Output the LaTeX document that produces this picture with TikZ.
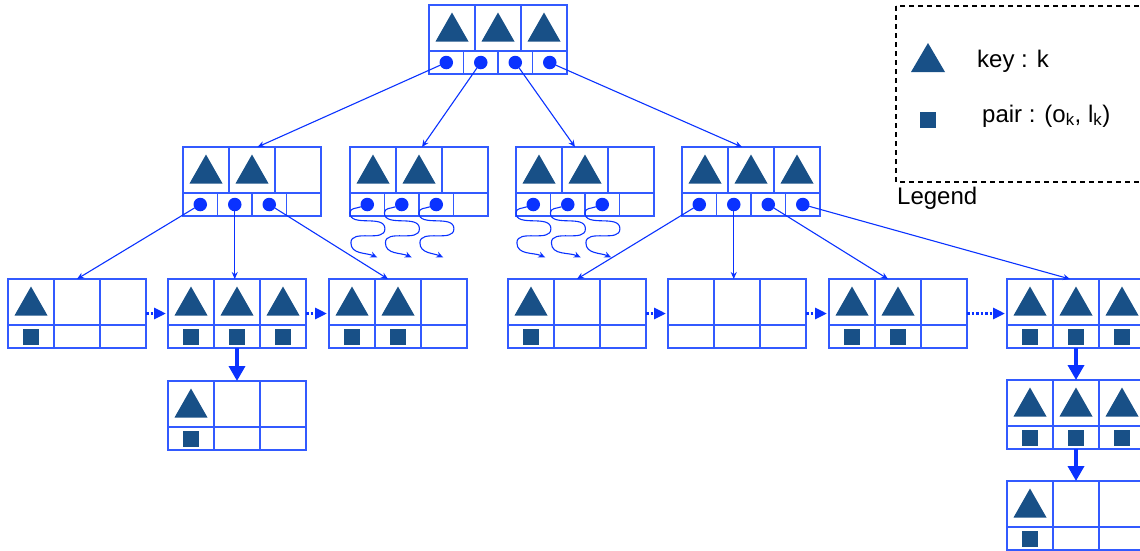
\documentclass[tikz,border=0pt]{standalone}
\usepackage{fontspec}
\setmainfont{Liberation Sans}
\usetikzlibrary{arrows.meta,calc}
\definecolor{lineblue}{RGB}{50,90,255}
\definecolor{arrowblue}{RGB}{10,50,255}
\definecolor{keyblue}{RGB}{24,80,135}
\tikzset{
  nodebox/.style={draw=lineblue,line width=1.5pt,minimum width=138pt,minimum height=69pt,inner sep=0pt,outer sep=0pt},
  cellline/.style={draw=lineblue,line width=1.3pt},
  dot/.style={circle,fill=arrowblue,minimum size=13.5pt,inner sep=0pt,outer sep=0pt},
  conn/.style={draw=arrowblue,line width=1.1pt,-{Stealth[length=7pt,width=6pt]}},
  bigarrow/.style={draw=arrowblue,line width=3.5pt,-{Triangle[length=15pt,width=16pt]}},
  dotarrow/.style={draw=arrowblue,line width=3pt,dash pattern=on 2.5pt off 2pt,shorten >=2pt,-{Triangle[length=12pt,width=11pt]}},
  legtext/.style={font=\fontsize{24}{28}\selectfont,inner sep=0pt,anchor=base west,text=black},
  legbox/.style={draw=black,line width=2pt,dash pattern=on 5pt off 4pt}
}
% internal node: name, left x, top y, triangle cells, dot cells
\newcommand\innernode[5]{%
  \node[nodebox] (#1) at (#2+69,#3+34.5) {};
  \draw[cellline] (#2,#3+46) -- (#2+138,#3+46)
     (#2+46,#3) -- (#2+46,#3+46) (#2+92,#3) -- (#2+92,#3+46)
     (#2+34.5,#3+46) -- (#2+34.5,#3+69) (#2+69,#3+46) -- (#2+69,#3+69)
     (#2+103.5,#3+46) -- (#2+103.5,#3+69);
  \foreach \i in {#4} {\fill[keyblue] (#2+46*\i-39.5,#3+36.5) -- (#2+46*\i-6.5,#3+36.5) -- (#2+46*\i-23,#3+7.5) -- cycle;}
  \foreach \i in {#5} {\node[dot] (#1-\i) at (#2+34.5*\i-17.25,#3+57.5) {};}
}
% leaf box only
\newcommand\leafbox[3]{%
  \node[nodebox] (#1) at (#2+69,#3+34.5) {};
  \draw[cellline] (#2,#3+46) -- (#2+138,#3+46)
     (#2+46,#3) -- (#2+46,#3+69) (#2+92,#3) -- (#2+92,#3+69);
}
% leaf node: name, left x, top y, filled cells
\newcommand\leafnode[4]{%
  \leafbox{#1}{#2}{#3}
  \foreach \i in {#4} {%
    \fill[keyblue] (#2+46*\i-39.5,#3+36.5) -- (#2+46*\i-6.5,#3+36.5) -- (#2+46*\i-23,#3+7.5) -- cycle;
    \fill[keyblue] (#2+46*\i-31,#3+49.5) rectangle (#2+46*\i-15,#3+65.5);}
}
% wavy arrow from a dot
\newcommand\wavy[2]{%
  \coordinate (#1-t) at ($(#1)+(#2,53)$);
  \draw[conn] (#1.200) to[out=200,in=90] ++(-11,6) to[out=-90,in=90] ++(35,16)
     to[out=-90,in=90] ++(-34,14) to[out=-90,in=155] (#1-t);
}
\begin{document}
\begin{tikzpicture}[x=1pt,y=-1pt]
\useasboundingbox (0,0) rectangle (1140,550);
\clip (0,0) rectangle (1140,550);

% root
\innernode{R}{429}{5}{1,2,3}{1,2,3,4}
% internal level
\innernode{A}{183}{147}{1,2}{1,2,3}
\innernode{B}{350}{147}{1,2}{1,2,3}
\innernode{C}{516}{147}{1,2}{1,2,3}
\innernode{D}{682}{147}{1,2,3}{1,2,3,4}
% leaves
\leafnode{L1}{8}{279}{1}
\leafnode{L2}{168}{279}{1,2,3}
\leafnode{L3}{329}{279}{1,2}
\leafnode{L2b}{168}{381}{1}
\leafnode{L4}{508}{279}{1}
\leafbox{L5}{668}{279}
\leafnode{L6}{829}{279}{1,2}
\leafnode{L7}{1007}{279}{1,2,3}
\leafnode{L7b}{1007}{380}{1,2,3}
\leafnode{L7c}{1007}{481}{1}

% root connectors
\draw[conn] (R-1) -- ([xshift=5.5pt]A.north);
\draw[conn] (R-2) -- ([xshift=3pt]B.north);
\draw[conn] (R-3) -- ([xshift=-10pt]C.north);
\draw[conn] (R-4) -- ([xshift=-9pt]D.north);
% A connectors
\draw[conn] (A-1) -- (L1.north);
\draw[conn] (A-2) -- (A-2 |- L2.north);
\draw[conn] (A-3) -- ([xshift=-10pt]L3.north);
% D connectors
\draw[conn] (D-1) -- (L4.north);
\draw[conn] (D-2) -- (D-2 |- L5.north);
\draw[conn] (D-3) -- ([xshift=-10pt]L6.north);
\draw[conn] (D-4) -- ([xshift=-6pt]L7.north);
% wavy
\wavy{B-1}{10}
\wavy{B-2}{10}
\wavy{B-3}{7}
\wavy{C-1}{12}
\wavy{C-2}{13}
\wavy{C-3}{9}
% sibling links
\draw[dotarrow] (L1.east) -- (L2.west);
\draw[dotarrow] (L2.east) -- (L3.west);
\draw[dotarrow] (L4.east) -- (L5.west);
\draw[dotarrow] (L5.east) -- (L6.west);
\draw[dotarrow] (L6.east) -- (L7.west);
% overflow links
\draw[bigarrow] (L2.south) -- (L2b.north);
\draw[bigarrow] (L7.south) -- (L7b.north);
\draw[bigarrow] (L7b.south) -- (L7c.north);

% legend
\draw[legbox] (896,6) rectangle (1152,182);
\fill[keyblue] (911,72) -- (945,72) -- (928,43) -- cycle;
\fill[keyblue] (920,112) rectangle (936,128);
\node[legtext] (lkey) at (977,67) {key : k};
\node[legtext] (lpair) at (982,122) {pair : (o\textsubscript{k}, l\textsubscript{k})};
\node[legtext] (lleg) at (897,204) {Legend};
\end{tikzpicture}
\end{document}
